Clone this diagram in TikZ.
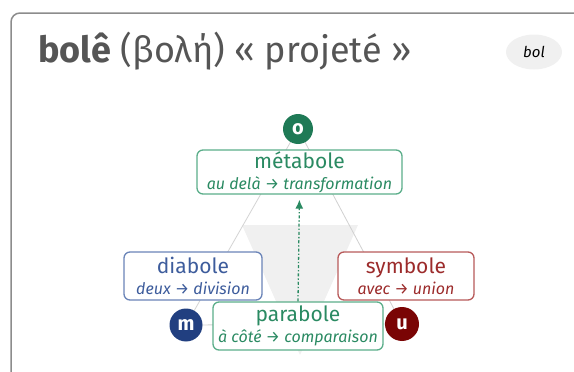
\documentclass[tikz,border=0pt]{standalone}
\usepackage{fontspec}
\setmainfont{Fira Sans}
\usetikzlibrary{arrows.meta,positioning,shapes.geometric,backgrounds}
\definecolor{vert}{HTML}{2A8A62}
\definecolor{vertclair}{HTML}{5BAE8A}
\definecolor{vertfonce}{HTML}{1F7A56}
\definecolor{bleu}{HTML}{3D5C9C}
\definecolor{bleuclair}{HTML}{6A84B8}
\definecolor{bleufonce}{HTML}{213F80}
\definecolor{rouge}{HTML}{9C2B2B}
\definecolor{rougeclair}{HTML}{B85A5A}
\definecolor{rougefonce}{HTML}{7A0404}
\definecolor{cadre}{HTML}{8C8C8C}
\definecolor{titre}{HTML}{555555}
\newcommand{\motnom}[1]{{\fontsize{21}{21}\selectfont #1}}
\newcommand{\motsens}[1]{{\fontsize{16}{16}\selectfont\itshape #1}}
\tikzset{
	motbox/.style={draw=#1, line width=1.3pt, rounded corners=6pt, fill=white, align=center, inner sep=0pt, font=\fontsize{16}{21}\selectfont},
	racine/.style={circle, fill=#1, text=white, font=\fontsize{20}{20}\selectfont\bfseries, inner sep=0pt},
}
\begin{document}
\begin{tikzpicture}[x=1pt,y=-1pt]
	\useasboundingbox (0,0) rectangle (574,372);
	\draw [cadre, line width=1.5pt, rounded corners=9pt] (11,390) -- (11,13) -- (600,13);
	\node [anchor=base west, text=titre, inner sep=0pt, font=\fontsize{36}{38}\selectfont] (titre) at (38,63) {\textbf{bolê} (βολή) « projeté »};
	\node [ellipse, fill=black!6, minimum width=56pt, minimum height=35pt, inner sep=0pt, font=\fontsize{15}{15}\selectfont\itshape] (bol) at (534,52) {bol};
	% racines
	\node [racine=vertfonce, minimum size=30pt] (o) at (298,129) {o};
	\node [racine=bleufonce, minimum size=33pt] (m) at (186,325) {m};
	\node [racine=rougefonce, minimum size=34pt] (u) at (402,324) {u};
	% mots
	\node [motbox=vertclair, text=vert, minimum width=205pt, minimum height=44pt] (metabole) at (299.5,172) {\motnom{métabole}\\ \motsens{au delà → transformation}};
	\node [motbox=bleuclair, text=bleu, minimum width=138pt, minimum height=48pt] (diabole) at (193,276) {\motnom{diabole}\\ \motsens{deux → division}};
	\node [motbox=rougeclair, text=rouge, minimum width=136pt, minimum height=48pt] (symbole) at (406,276) {\motnom{symbole}\\ \motsens{avec → union}};
	\node [motbox=vertclair, text=vert, minimum width=170pt, minimum height=48pt] (parabole) at (298,326) {\motnom{parabole}\\ \motsens{à côté → comparaison}};
	\draw [vert, line width=1.3pt, dash dot, -{Latex[length=9pt,width=8pt]}, shorten >=5pt] (parabole.north) -- (metabole.south);
	\begin{scope}[on background layer]
		\fill [black!6] (242,225) -- (358,225) -- (300,355) -- cycle;
		\draw [black!18, line width=0.8pt] (o.center) -- (m.center) -- (u.center) -- cycle;
	\end{scope}
\end{tikzpicture}
\end{document}
